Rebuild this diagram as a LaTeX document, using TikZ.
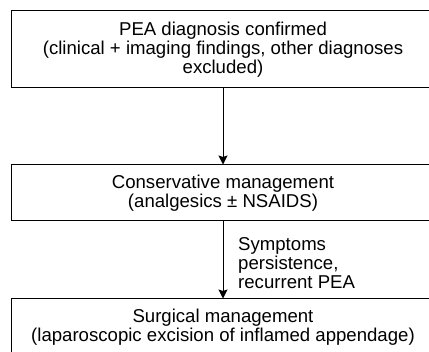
\documentclass[tikz,border=0pt]{standalone}
\usepackage{fontspec}
\setmainfont{Liberation Sans}
\usepackage{tikz}
\usetikzlibrary{arrows.meta}
\tikzset{
	boxstyle/.style={rectangle,draw=black,line width=1pt,fill=white,minimum width=424pt,align=center,inner sep=0pt},
	notestyle/.style={rectangle,align=left,inner sep=2pt},
	arrowstyle/.style={-{Stealth[length=9pt,width=9pt,inset=1.5pt]},line width=1pt}
}

\begin{document}
\begin{tikzpicture}[x=1pt,y=-1pt]
		\fontsize{18.6}{19}\selectfont
		\clip (0,0) rectangle (429,352);
		\node[boxstyle,minimum height=77pt] (pea) at (223,49.5) {PEA diagnosis confirmed\\(clinical + imaging findings, other diagnoses\\excluded)};
		\node[boxstyle,minimum height=56pt] (cons) at (223,193) {Conservative management\\(analgesics ± NSAIDS)};
		\node[boxstyle,minimum height=56pt] (surg) at (223,327) {Surgical management\\(laparoscopic excision of inflamed appendage)};
		\node[notestyle,anchor=west] (why) at (236,263) {Symptoms\\persistence,\\recurrent PEA};
		\draw[arrowstyle] (pea)--(cons);
		\draw[arrowstyle] (cons)--(surg);
		\end{tikzpicture}
\end{document}
